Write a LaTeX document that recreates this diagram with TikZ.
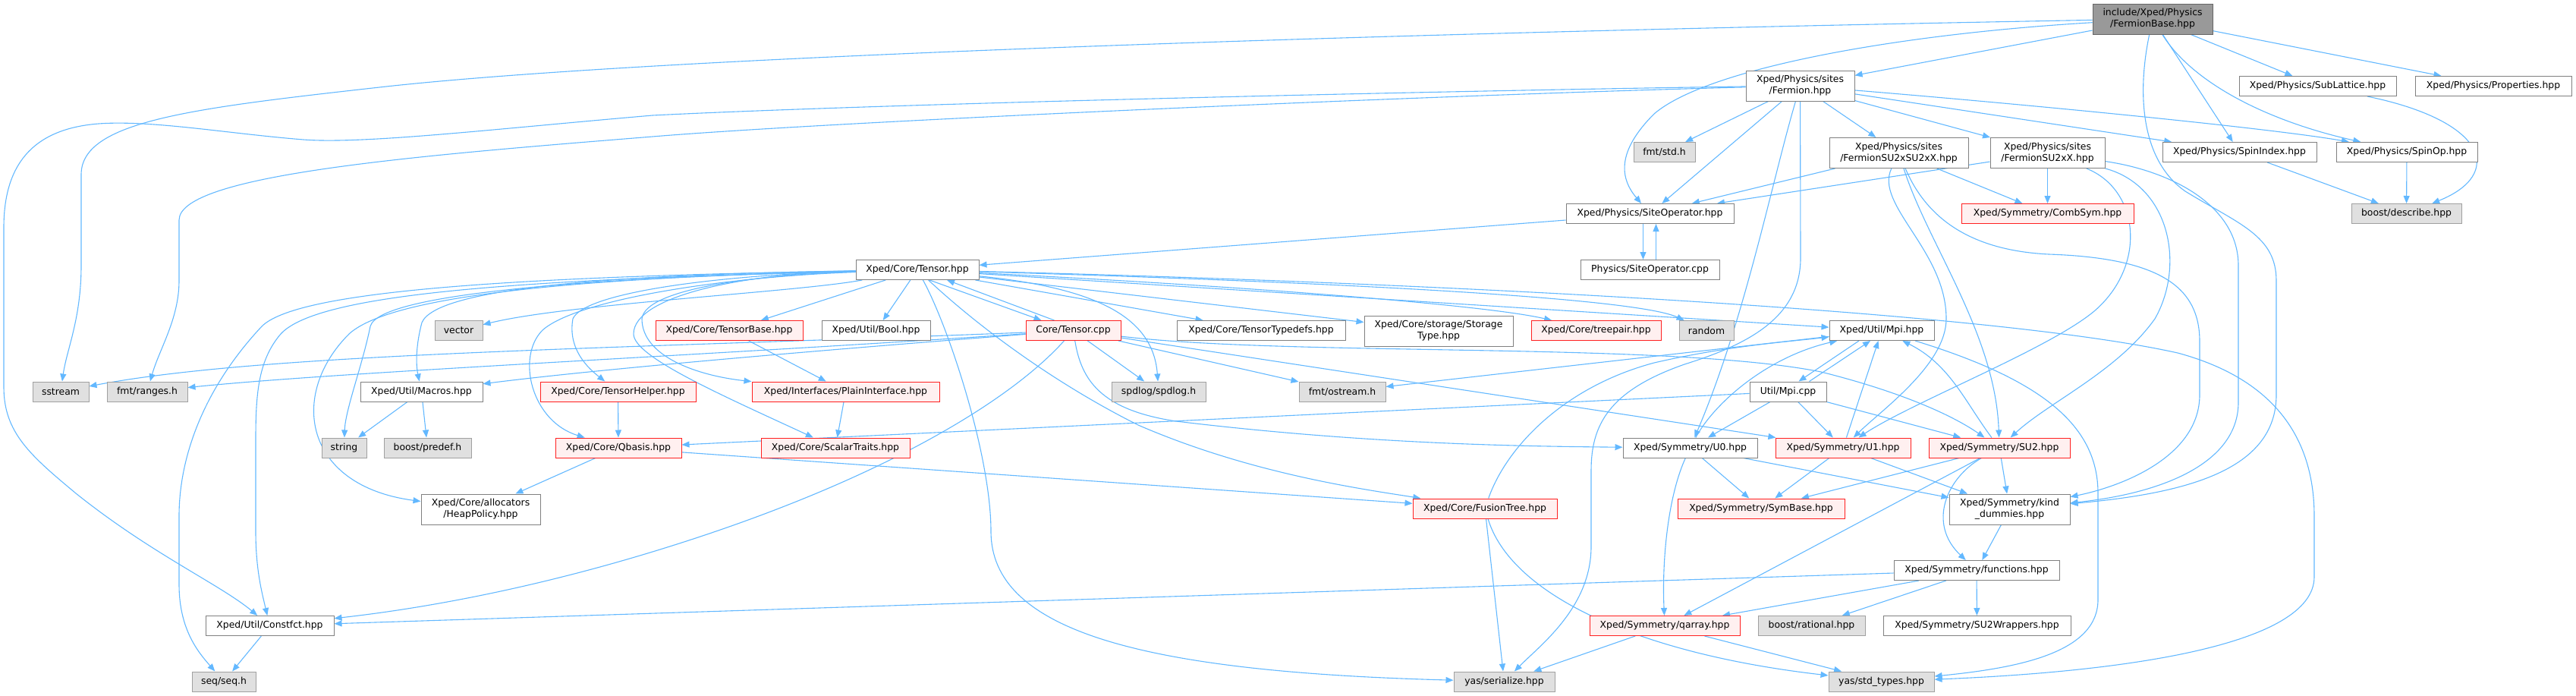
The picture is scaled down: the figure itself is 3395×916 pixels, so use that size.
\documentclass[tikz,border=0pt]{standalone}
\usepackage{fontspec}
\setmainfont{DejaVu Sans}
\usetikzlibrary{arrows.meta,calc}
\pgfdeclarelayer{edgelayer}
\pgfsetlayers{edgelayer,main}
\definecolor{edgec}{HTML}{63B8FF}
\definecolor{ndb}{HTML}{808080}
\definecolor{extf}{HTML}{E0E0E0}
\definecolor{extb}{HTML}{A0A0A0}
\definecolor{trf}{HTML}{FFF0F0}
\definecolor{trb}{HTML}{FF2020}
\definecolor{rootf}{HTML}{999999}
\definecolor{rootb}{HTML}{666666}
\newcommand\doxfont{\fontsize{6.2pt}{7.5pt}\selectfont}
\tikzset{
  nd/.style={draw=ndb, fill=white, line width=0.5pt, minimum height=13pt, inner sep=0pt, font=\doxfont, align=center, text=black},
  ext/.style={nd, draw=extb, fill=extf},
  trunc/.style={nd, draw=trb, fill=trf},
  rootnd/.style={nd, draw=rootb, fill=rootf},
  two/.style={minimum height=20pt},
  bw/.style={minimum width=#1*0.5pt},
  ed/.style={draw=edgec, line width=0.55pt, -{Triangle[length=5pt,width=4pt]}}
}
\begin{document}
\begin{tikzpicture}[x=0.5pt,y=-0.5pt]
\useasboundingbox (0,0) rectangle (3395,916);
% nodes
\node[rootnd,bw=158,two] (FB) at (2837,25) {include/Xped/Physics\\/FermionBase.hpp};
\node[nd,bw=143,two] (Fermion) at (2372.5,113) {Xped/Physics/sites\\/Fermion.hpp};
\node[nd,bw=207] (SubLattice) at (3054.5,113.5) {Xped/Physics/SubLattice.hpp};
\node[nd,bw=206] (Properties) at (3286,113.5) {Xped/Physics/Properties.hpp};
\node[ext,bw=81] (fmtstd) at (2193.5,200.5) {fmt/std.h};
\node[nd,bw=183,two] (FSUSU) at (2502.5,201.5) {Xped/Physics/sites\\/FermionSU2xSU2xX.hpp};
\node[nd,bw=151,two] (FSUX) at (2698.5,201.5) {Xped/Physics/sites\\/FermionSU2xX.hpp};
\node[nd,bw=203] (SpinIndex) at (2951.5,200.5) {Xped/Physics/SpinIndex.hpp};
\node[nd,bw=186] (SpinOp) at (3172,200.5) {Xped/Physics/SpinOp.hpp};
\node[nd,bw=221] (SiteOp) at (2174.5,281.5) {Xped/Physics/SiteOperator.hpp};
\node[trunc,bw=227] (CombSym) at (2698.5,281.5) {Xped/Symmetry/CombSym.hpp};
\node[ext,bw=145] (describe) at (3171.5,281.5) {boost/describe.hpp};
\node[nd,bw=183] (SiteOpCpp) at (2174.5,355.5) {Physics/SiteOperator.cpp};
\node[nd,bw=162] (Tensor) at (1209,355.5) {Xped/Core/Tensor.hpp};
\node[ext,bw=63] (vector) at (604.5,435.5) {vector};
\node[trunc,bw=194] (TensorBase) at (961,435.5) {Xped/Core/TensorBase.hpp};
\node[nd,bw=143] (Bool) at (1154.5,435.5) {Xped/Util/Bool.hpp};
\node[trunc,bw=125] (TensorCpp) at (1414.5,435.5) {Core/Tensor.cpp};
\node[nd,bw=222] (Typedefs) at (1662,435.5) {Xped/Core/TensorTypedefs.hpp};
\node[nd,bw=196,two] (Storage) at (1896,436) {Xped/Core/storage/Storage\\Type.hpp};
\node[trunc,bw=171] (treepair) at (2103.5,435.5) {Xped/Core/treepair.hpp};
\node[ext,bw=72] (random) at (2249,435.5) {random};
\node[nd,bw=138] (Mpi) at (2480,435.5) {Xped/Util/Mpi.hpp};
\node[ext,bw=74] (sstream) at (80,516) {sstream};
\node[ext,bw=106] (ranges) at (194,516) {fmt/ranges.h};
\node[nd,bw=161] (Macros) at (555.5,516) {Xped/Util/Macros.hpp};
\node[trunc,bw=205] (TensorHelper) at (814.5,516) {Xped/Core/TensorHelper.hpp};
\node[trunc,bw=247] (Plain) at (1114.5,516) {Xped/Interfaces/PlainInterface.hpp};
\node[ext,bw=124] (spdlog) at (1527,516) {spdlog/spdlog.h};
\node[ext,bw=114] (ostream) at (1769,516) {fmt/ostream.h};
\node[nd,bw=101] (MpiCpp) at (2356.5,516) {Util/Mpi.cpp};
\node[ext,bw=59] (string) at (453.5,590) {string};
\node[ext,bw=115] (predef) at (563.5,590) {boost/predef.h};
\node[trunc,bw=166] (Qbasis) at (815,590) {Xped/Core/Qbasis.hpp};
\node[trunc,bw=196] (Scalar) at (1101,590) {Xped/Core/ScalarTraits.hpp};
\node[nd,bw=177] (U0) at (2227.5,590) {Xped/Symmetry/U0.hpp};
\node[trunc,bw=178] (U1) at (2429,590) {Xped/Symmetry/U1.hpp};
\node[trunc,bw=186] (SU2) at (2635,590) {Xped/Symmetry/SU2.hpp};
\node[nd,bw=157,two] (Heap) at (633.5,671) {Xped/Core/allocators\\/HeapPolicy.hpp};
\node[trunc,bw=190] (Fusion) at (1957,670) {Xped/Core/FusionTree.hpp};
\node[trunc,bw=220] (SymBase) at (2321,670) {Xped/Symmetry/SymBase.hpp};
\node[nd,bw=159,two] (kind) at (2648.5,671) {Xped/Symmetry/kind\\\_dummies.hpp};
\node[nd,bw=218] (functions) at (2605,751.5) {Xped/Symmetry/functions.hpp};
\node[nd,bw=169] (Constfct) at (355.5,824.5) {Xped/Util/Constfct.hpp};
\node[trunc,bw=198] (qarray) at (2194,824.5) {Xped/Symmetry/qarray.hpp};
\node[ext,bw=141] (rational) at (2387.5,824.5) {boost/rational.hpp};
\node[nd,bw=247] (SU2W) at (2605.5,824.5) {Xped/Symmetry/SU2Wrappers.hpp};
\node[ext,bw=84] (seq) at (295,898) {seq/seq.h};
\node[ext,bw=133] (serialize) at (1982.5,898) {yas/serialize.hpp};
\node[ext,bw=139] (stdtypes) at (2479.5,898) {yas/std\_types.hpp};

\begin{pgfonlayer}{edgelayer}
% FermionBase
\draw[ed] (FB) -- (Fermion);
\draw[ed] (FB) -- (SubLattice);
\draw[ed] (FB) -- (Properties);
\draw[ed] (FB) -- (SpinIndex);
\draw[ed] (FB) .. controls (2890,110) and (2990,160) .. (SpinOp);
\draw[ed] (FB) .. controls (2500,45) and (2250,90) .. (2180,150) .. controls (2130,200) and (2135,235) .. (SiteOp);
\draw[ed] (FB) .. controls (2000,40) and (900,70) .. (500,115) .. controls (250,143) and (107,160) .. (107,230) -- (107,350) .. controls (107,420) and (88,460) .. (sstream);
\draw[ed] (FB) .. controls (2817,120) and (2820,210) .. (2880,252) .. controls (2950,295) and (3000,310) .. (3000,370) -- (3000,520) .. controls (3000,620) and (2880,650) .. (kind);

% Fermion
\draw[ed] (Fermion) -- (fmtstd);
\draw[ed] (Fermion) -- (SiteOp);
\draw[ed] (Fermion) .. controls (2335,240) and (2300,420) .. (U0);
\draw[ed] (Fermion) -- (2373,340) .. controls (2373,420) and (2300,455) .. (2220,480) .. controls (2120,515) and (2097,560) .. (2097,620) -- (2097,720) .. controls (2097,800) and (2030,850) .. (serialize);
\draw[ed] (Fermion) .. controls (2000,118) and (1200,135) .. (860,152) .. controls (650,170) and (480,190) .. (400,184) .. controls (300,176) and (200,158) .. (130,163) .. controls (40,170) and (5,220) .. (5,300) -- (5,510) .. controls (5,570) and (40,600) .. (100,650) .. controls (200,730) and (290,770) .. (Constfct);
\draw[ed] (Fermion) .. controls (1900,125) and (1100,160) .. (860,180) .. controls (550,205) and (236,230) .. (236,290) -- (236,370) .. controls (236,420) and (210,460) .. (ranges);
\draw[ed] (Fermion) -- (SpinIndex);
\draw[ed] (Fermion) .. controls (2700,140) and (3000,170) .. (SpinOp);
\draw[ed] (Fermion) -- (FSUX);
\draw[ed] (Fermion) -- (FSUSU);

% FermionSU2xSU2xX
\draw[ed] (FSUSU) -- (SiteOp);
\draw[ed] (FSUSU) -- (CombSym);
\draw[ed] (FSUSU) .. controls (2470,270) and (2565,330) .. (2565,420) .. controls (2565,480) and (2480,540) .. (U1);
\draw[ed] (FSUSU) .. controls (2540,320) and (2630,440) .. (SU2);
\draw[ed] (FSUSU) .. controls (2540,290) and (2600,330) .. (2700,335) .. controls (2850,340) and (2899,380) .. (2899,450) -- (2899,520) .. controls (2899,600) and (2800,640) .. (kind);

% FermionSU2xX
\draw[ed] (FSUX) -- (SiteOp);
\draw[ed] (FSUX) -- (CombSym);
\draw[ed] (FSUX) .. controls (2820,250) and (2830,350) .. (2760,410) .. controls (2700,460) and (2520,530) .. (U1);
\draw[ed] (FSUX) .. controls (2860,245) and (2880,350) .. (2840,420) .. controls (2790,490) and (2700,530) .. (SU2);
\draw[ed] (FSUX) .. controls (2860,225) and (2950,270) .. (2950,350) -- (2950,530) .. controls (2950,610) and (2850,650) .. (kind);

% Physics misc
\draw[ed] (SpinIndex) -- (describe);
\draw[ed] (SpinOp) -- (describe);
\draw[ed] (SubLattice) .. controls (3280,160) and (3300,230) .. (describe);
\draw[ed] ($(SiteOp.south)+(-9,0)$) -- ($(SiteOpCpp.north)+(-9,0)$);
\draw[ed] ($(SiteOpCpp.north)+(8,0)$) -- ($(SiteOp.south)+(8,0)$);
\draw[ed] (SiteOp) -- (Tensor);

% Tensor.hpp
\draw[ed] (Tensor) -- (TensorBase);
\draw[ed] (Tensor) -- (Bool);
\draw[ed] ($(Tensor.south)+(16,0)$) -- ($(TensorCpp.north)+(-42,0)$);
\draw[ed] ($(TensorCpp.north)+(-25,0)$) -- ($(Tensor.south)+(39,0)$);
\draw[ed] (Tensor) -- (Typedefs);
\draw[ed] (Tensor) -- (Storage);
\draw[ed] (Tensor) .. controls (1600,375) and (1950,400) .. (treepair);
\draw[ed] (Tensor) .. controls (1700,370) and (2150,390) .. (random);
\draw[ed] (Tensor) -- (Mpi);
\draw[ed] (Tensor) .. controls (1800,370) and (2600,405) .. (2870,465) .. controls (3000,500) and (3050,580) .. (3050,680) -- (3050,760) .. controls (3050,850) and (2800,885) .. (stdtypes);
\draw[ed] (Tensor) .. controls (1450,380) and (1520,420) .. (spdlog);
\draw[ed] (Tensor) .. controls (1250,430) and (1306,600) .. (1306,700) .. controls (1306,830) and (1500,885) .. (serialize);
\draw[ed] (Tensor) .. controls (1300,440) and (1400,510) .. (1500,560) .. controls (1650,625) and (1800,645) .. (Fusion);
\draw[ed] (Tensor) .. controls (980,360) and (835,390) .. (835,440) .. controls (835,470) and (950,520) .. (Scalar);
\draw[ed] (Tensor) .. controls (1000,362) and (850,380) .. (846,420) .. controls (846,470) and (920,495) .. (Plain);
\draw[ed] (Tensor) .. controls (950,362) and (770,385) .. (755,420) .. controls (748,460) and (775,485) .. (TensorHelper);
\draw[ed] (Tensor) .. controls (1050,385) and (750,400) .. (vector);
\draw[ed] (Tensor) .. controls (800,362) and (575,380) .. (556,425) .. controls (548,455) and (548,480) .. (Macros);
\draw[ed] (Tensor) .. controls (950,365) and (760,395) .. (715,435) .. controls (680,470) and (700,555) .. (Qbasis);
\draw[ed] (Tensor) .. controls (800,365) and (500,385) .. (488,430) .. controls (478,480) and (455,540) .. (string);
\draw[ed] (Tensor) .. controls (800,365) and (520,385) .. (460,440) .. controls (380,520) and (400,640) .. (Heap);
\draw[ed] (Tensor) .. controls (700,368) and (420,385) .. (370,440) .. controls (340,475) and (337,520) .. (337,580) -- (337,700) .. controls (337,750) and (345,780) .. (Constfct);
\draw[ed] (Tensor) .. controls (650,365) and (390,385) .. (345,430) .. controls (270,510) and (236,600) .. (236,680) -- (236,770) .. controls (236,830) and (262,860) .. (seq);

% Tensor.cpp
\draw[ed] (TensorCpp) .. controls (800,460) and (350,465) .. (sstream);
\draw[ed] (TensorCpp) .. controls (900,470) and (450,490) .. (ranges);
\draw[ed] (TensorCpp) .. controls (1100,460) and (800,485) .. (Macros);
\draw[ed] (TensorCpp) .. controls (1330,530) and (1150,640) .. (850,730) .. controls (650,790) and (500,808) .. (Constfct);
\draw[ed] (TensorCpp) -- (spdlog);
\draw[ed] (TensorCpp) .. controls (1425,500) and (1450,540) .. (1550,555) .. controls (1800,585) and (2000,588) .. (U0);
\draw[ed] (TensorCpp) -- (ostream);
\draw[ed] (TensorCpp) -- (U1);
\draw[ed] (TensorCpp) .. controls (1700,470) and (2200,450) .. (2400,490) .. controls (2500,515) and (2570,545) .. (SU2);

% middle layer
\draw[ed] (TensorBase) -- (Plain);
\draw[ed] (Plain) -- (Scalar);
\draw[ed] (TensorHelper) -- (Qbasis);
\draw[ed] (Macros) -- (string);
\draw[ed] (Macros) -- (predef);
\draw[ed] (Qbasis) -- (Heap);
\draw[ed] (Qbasis) -- (Fusion);
\draw[ed] (Constfct) -- (seq);

% Mpi
\draw[ed] ($(Mpi.south)+(-30,0)$) -- ($(MpiCpp.north)+(14,0)$);
\draw[ed] ($(MpiCpp.north)+(28,0)$) -- ($(Mpi.south)+(-15,0)$);
\draw[ed] (MpiCpp) -- (Qbasis);
\draw[ed] (MpiCpp) -- (U0);
\draw[ed] (MpiCpp) -- (U1);
\draw[ed] (MpiCpp) -- (SU2);
\draw[ed] (Mpi) -- (ostream);
\draw[ed] (Mpi) .. controls (2690,500) and (2765,560) .. (2765,650) -- (2765,790) .. controls (2765,860) and (2660,880) .. (stdtypes);

% Symmetries
\draw[ed] (U0) .. controls (2260,530) and (2330,470) .. (Mpi);
\draw[ed] (U0) -- (SymBase);
\draw[ed] (U0) .. controls (2200,650) and (2190,730) .. (qarray);
\draw[ed] (U0) -- (kind);
\draw[ed] (U1) -- (Mpi);
\draw[ed] (U1) -- (SymBase);
\draw[ed] (U1) -- (kind);
\draw[ed] (SU2) .. controls (2590,530) and (2570,480) .. (Mpi);
\draw[ed] (SU2) -- (SymBase);
\draw[ed] (SU2) -- (kind);
\draw[ed] (SU2) .. controls (2565,630) and (2540,690) .. (functions);
\draw[ed] (SU2) -- (qarray);
\draw[ed] (kind) -- (functions);
\draw[ed] (functions) -- (Constfct);
\draw[ed] (functions) -- (qarray);
\draw[ed] (functions) -- (rational);
\draw[ed] (functions) -- (SU2W);

% FusionTree, qarray
\draw[ed] (Fusion) .. controls (1985,590) and (2060,510) .. (2180,478) .. controls (2280,455) and (2360,450) .. (Mpi);
\draw[ed] (Fusion) -- (serialize);
\draw[ed] (Fusion) .. controls (1990,780) and (2150,860) .. (stdtypes);
\draw[ed] (qarray) -- (serialize);
\draw[ed] (qarray) -- (stdtypes);
\end{pgfonlayer}
\end{tikzpicture}
\end{document}
